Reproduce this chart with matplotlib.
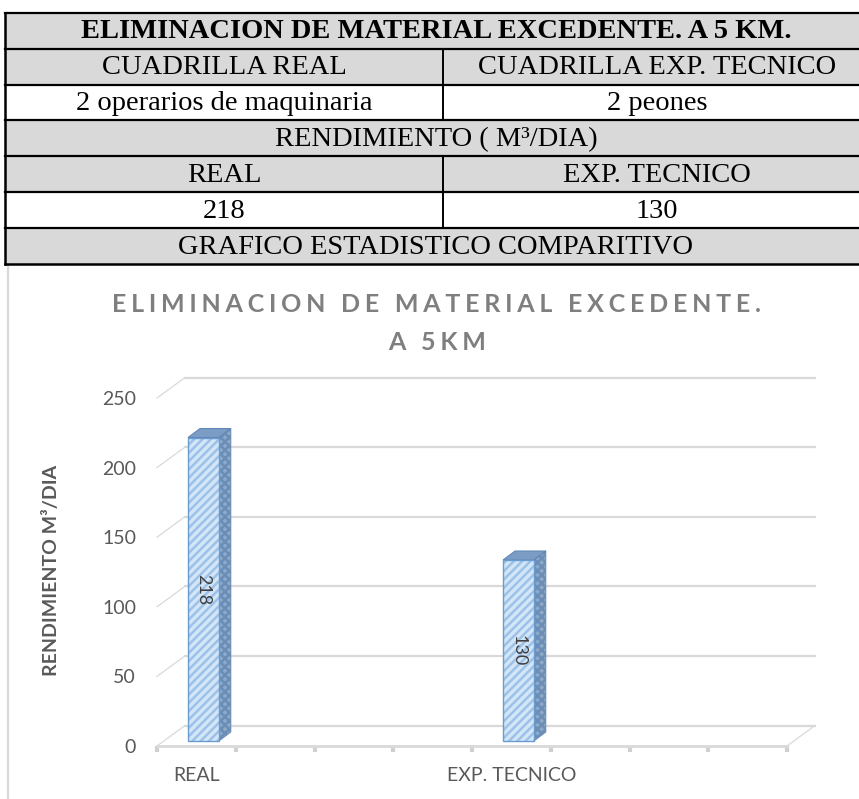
import matplotlib
matplotlib.use("Agg")
import numpy as np
import matplotlib.pyplot as plt
from matplotlib.patches import Rectangle, Polygon

plt.rcParams['font.family'] = ['Lato', 'DejaVu Sans']
plt.rcParams['hatch.linewidth'] = 1.8

# table contents
table_title = "ELIMINACION DE MATERIAL EXCEDENTE. A 5 KM."
crew_header = ["CUADRILLA REAL", "CUADRILLA EXP. TECNICO"]
crew = ["2 operarios de maquinaria", "2 peones"]
perf_header = "RENDIMIENTO ( M³/DIA)"
perf_cols = ["REAL", "EXP. TECNICO"]
perf_values = [218, 130]
chart_row = "GRAFICO ESTADISTICO COMPARITIVO"

# chart contents
chart_title = ["ELIMINACION DE MATERIAL EXCEDENTE.", "A 5KM"]
y_label = "RENDIMIENTO M³/DIA"
categories = ["REAL", "EXP. TECNICO"]
values = [218, 130]
y_ticks = [0, 50, 100, 150, 200, 250]

W, H = 859, 799
fig = plt.figure(figsize=(W / 100, H / 100), dpi=100)


def fig_box(x0, y0, x1, y1):
    # pixel box (top-left origin) -> figure fraction rect
    return [x0 / W, 1 - y1 / H, (x1 - x0) / W, (y1 - y0) / H]


# ---- table on top ----
tab = fig.add_axes([0, 0, 1, 1])
tab.set_xlim(0, W)
tab.set_ylim(H, 0)
tab.axis('off')

left, right, split = 5, 870, 443
row_h = 35.9
top = 12.7
serif = ['Liberation Serif', 'DejaVu Serif']

rows = [
    (table_title, True, True),
    (crew_header, True, False),
    (crew, False, False),
    (perf_header, True, False),
    (perf_cols, True, False),
    ([str(v) for v in perf_values], False, False),
    (chart_row, True, False),
]

for i, (cells, shaded, bold) in enumerate(rows):
    y0 = top + i * row_h
    yc = y0 + row_h / 2 + 1
    tab.add_patch(Rectangle((left, y0), right - left, row_h,
                            facecolor='#d9d9d9' if shaded else 'white',
                            edgecolor='none', zorder=1))
    kw = dict(ha='center', va='center', family=serif, color='black',
              fontsize=20.5, weight='bold' if bold else 'normal', zorder=3)
    if isinstance(cells, str):
        tab.text(436, yc, cells, **kw)
    else:
        tab.text((left + split) / 2, yc, cells[0], **kw)
        tab.text(657, yc, cells[1], **kw)
        tab.plot([split, split], [y0, y0 + row_h], color='black', lw=1.4, zorder=4)
    tab.plot([left, right], [y0, y0], color='black', lw=1.6, zorder=4)

bottom_tab = top + len(rows) * row_h
tab.plot([left, right], [bottom_tab, bottom_tab], color='black', lw=1.8, zorder=4)
tab.plot([left, left], [top, bottom_tab], color='black', lw=1.8, zorder=4)

# chart frame edge on the left
tab.plot([8, 8], [bottom_tab, H], color='#d9d9d9', lw=1.6, zorder=2)

# ---- chart ----
def spaced(s):
    return "\u2009\u200a".join(s)


for k, line in enumerate(chart_title):
    fig.text(437 / W, 1 - (304 + 39 * k) / H, spaced(line), ha='center', va='center',
             fontsize=18, weight='bold', color='#7f7f7f')

ax = fig.add_axes(fig_box(157, 398, 787, 746))
ax.set_zorder(5)
ax.patch.set_visible(False)

slots_per_cat = 4
n_slots = slots_per_cat * len(categories)
ax.set_xlim(0, n_slots)
ax.set_ylim(0, y_ticks[-1])


def px_to_data(dx, dy):
    x0, y0 = ax.transData.transform((0, 0))
    x1, y1 = ax.transData.inverted().transform((x0 + dx, y0 + dy))
    return x1, y1


wall_dx, wall_dy = px_to_data(28, 20.5)
bar_dx, bar_dy = px_to_data(7, 5)
side_dx, side_dy = px_to_data(12, 9)

grid_c = '#d9d9d9'
for v in y_ticks:
    ax.plot([wall_dx, n_slots + wall_dx], [v + wall_dy, v + wall_dy],
            color=grid_c, lw=1.6, clip_on=False, zorder=1)
    ax.plot([0, wall_dx], [v, v + wall_dy], color=grid_c, lw=0.9,
            clip_on=False, zorder=1)
ax.plot([n_slots, n_slots + wall_dx], [0, wall_dy], color=grid_c, lw=0.9,
        clip_on=False, zorder=1)

xs = np.arange(len(categories)) * slots_per_cat + 0.5
bw = 0.39

ax.bar(xs + bar_dx, values, width=bw, bottom=bar_dy, color='#d3e6f8',
       edgecolor='#9dc2e7', hatch='////', lw=0, zorder=4)
ax.bar(xs + bar_dx, values, width=bw, bottom=bar_dy, fill=False,
       edgecolor='#6a9bd1', lw=1.0, zorder=5)

for x, v in zip(xs, values):
    xl = x + bar_dx - bw / 2
    xr = x + bar_dx + bw / 2
    yb, yt = bar_dy, bar_dy + v
    ax.add_patch(Polygon([(xr, yb), (xr + side_dx, yb + side_dy),
                          (xr + side_dx, yt + side_dy), (xr, yt)],
                         facecolor='#8eaaca', edgecolor='#6c8db5', hatch='xxxx',
                         lw=0.8, zorder=3, clip_on=False))
    ax.add_patch(Polygon([(xl, yt), (xr, yt), (xr + side_dx, yt + side_dy),
                          (xl + side_dx, yt + side_dy)],
                         facecolor='#7b9dc5', edgecolor='#5f87b5', lw=0.8,
                         zorder=3, clip_on=False))
    ax.text(x + bar_dx, bar_dy + v / 2, str(v), rotation=270, ha='center',
            va='center', fontsize=13, color='#404040', zorder=6)

for s in ['top', 'right', 'left']:
    ax.spines[s].set_visible(False)
ax.spines['bottom'].set_color(grid_c)
ax.spines['bottom'].set_linewidth(2)

ax.set_xticks(range(n_slots + 1))
ax.set_xticklabels([])
ax.tick_params(axis='x', which='major', length=4, width=3, color='#d0d0d0',
               direction='out')
ax.set_xticks(xs, labels=categories, minor=True)
ax.tick_params(axis='x', which='minor', length=0, pad=15, labelsize=14,
               labelcolor='#595959')
ax.set_yticks(y_ticks)
ax.tick_params(axis='y', length=0, pad=15, labelsize=14, labelcolor='#595959')

fig.text(52 / W, 1 - 570 / H, y_label, rotation=90, ha='center', va='center',
         fontsize=14, weight='bold', color='#595959')

fig.savefig('out.png', dpi=100)
